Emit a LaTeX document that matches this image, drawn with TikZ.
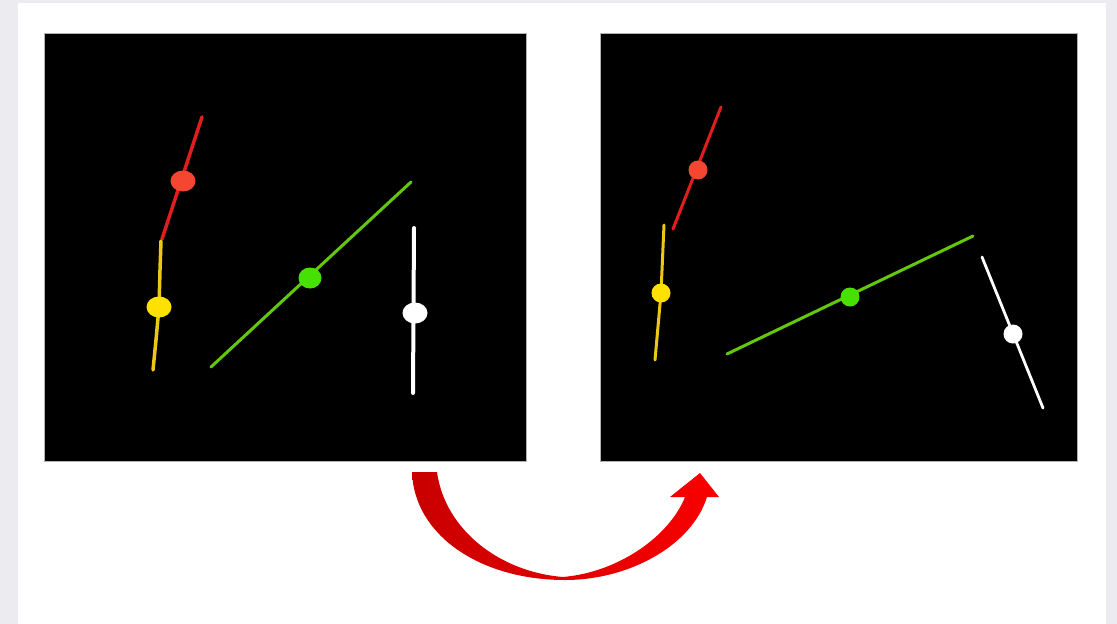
\documentclass[tikz,border=0pt]{standalone}
\usepackage{tikz}
\definecolor{bggray}{RGB}{235,235,240}
\definecolor{lred}{RGB}{225,30,30}
\definecolor{dred}{RGB}{245,70,50}
\definecolor{lyel}{RGB}{235,200,20}
\definecolor{dyel}{RGB}{255,225,0}
\definecolor{lgrn}{RGB}{100,200,10}
\definecolor{dgrn}{RGB}{70,225,0}
\definecolor{arrowdark}{RGB}{200,0,0}
\definecolor{arrowlight}{RGB}{250,0,0}
\tikzset{
  seg/.style={line width=#1, line cap=round, line join=round},
  seg/.default=3.5pt,
  panel/.style={fill=black, draw=gray!60, line width=0.6pt}
}
\begin{document}
\begin{tikzpicture}[x=1pt,y=-1pt]
\useasboundingbox (0,0) rectangle (1117,624);
\fill[bggray] (0,0) rectangle (1117,624);
\fill[white] (18,3) rectangle (1106,624);
% panels
\draw[panel] (44,33) rectangle (526,461);
\draw[panel] (600,33) rectangle (1077,461);
% ---- left panel ----
\draw[lred, seg=3.5pt] (162,239) -- (202,117);
\fill[dred] (183,181) ellipse (12.5 and 10.5);
\draw[lyel, seg=3.5pt] (161,241) -- (160,270) -- (159,307) -- (156,340) -- (153,370);
\fill[dyel] (159,307) ellipse (12.5 and 10.5);
\draw[lgrn, seg=3pt] (211,367) -- (411,182);
\fill[dgrn] (310,278) ellipse (11.5 and 10.5);
\draw[white, seg=4pt] (414,228) -- (413,393);
\fill[white] (415,313) ellipse (12.5 and 10.5);
% ---- right panel ----
\draw[lred, seg=3pt] (673,229) -- (721,107);
\fill[dred] (698,170) circle (9.5);
\draw[lyel, seg=3pt] (664,225) -- (661,293) -- (655,360);
\fill[dyel] (661,293) circle (9.5);
\draw[lgrn, seg=3pt] (727,354) -- (973,236);
\fill[dgrn] (850,297) circle (9.5);
\draw[white, seg=2.8pt] (982,257) -- (1043,408);
\fill[white] (1013,334) circle (9.5);
% ---- curved arrow ----
\shade[left color=arrowdark, right color=arrowlight]
  (412,472) -- (437,472)
  .. controls (445,530) and (500,572) .. (563,577)
  .. controls (620,572) and (670,535) .. (685,497)
  -- (670,497) -- (700,473) -- (719,497) -- (707,497)
  .. controls (692,545) and (630,580) .. (565,580)
  .. controls (480,580) and (414,535) .. (412,472) -- cycle;
\end{tikzpicture}
\end{document}
